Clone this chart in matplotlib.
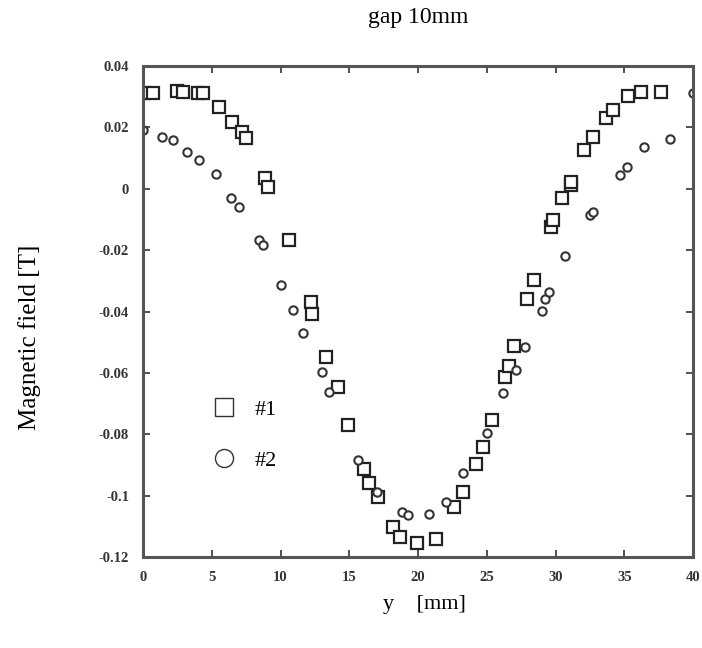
# Magnetic field along y, gap 10mm, two probes

import matplotlib.pyplot as plt
from matplotlib.lines import Line2D

# Data (#1 squares, #2 circles)
y1_mm = [0.1, 0.7, 2.5, 2.9, 4.0, 4.4, 5.5, 6.5, 7.2, 7.5, 8.9, 9.1, 10.6,
         12.2, 12.3, 13.3, 14.2, 14.9, 16.1, 16.4, 17.1, 18.2, 18.7, 19.9,
         21.3, 22.6, 23.3, 24.2, 24.7, 25.4, 26.3, 26.6, 27.0, 27.9, 28.4,
         29.7, 29.8, 30.5, 31.1, 31.1, 32.1, 32.7, 33.7, 34.2, 35.3, 36.2, 37.7]
b1 = [0.0312, 0.0312, 0.0319, 0.0315, 0.0312, 0.0312, 0.0266, 0.0218, 0.0185,
      0.0165, 0.0035, 0.0006, -0.0167, -0.0369, -0.0408, -0.0548, -0.0646,
      -0.0770, -0.0913, -0.0959, -0.1004, -0.1102, -0.1135, -0.1154, -0.1141,
      -0.1037, -0.0988, -0.0897, -0.0841, -0.0753, -0.0613, -0.0578, -0.0512,
      -0.0359, -0.0297, -0.0125, -0.0102, -0.0030, 0.0012, 0.0022, 0.0126,
      0.0169, 0.0231, 0.0257, 0.0302, 0.0315, 0.0315]

y2_mm = [0.0, 1.4, 2.2, 3.2, 4.1, 5.3, 6.4, 7.0, 8.4, 8.7, 10.0, 10.9, 11.6,
         13.0, 13.5, 15.6, 17.0, 18.8, 19.3, 20.8, 22.0, 23.3, 25.0, 26.2,
         27.1, 27.8, 29.0, 29.2, 29.5, 30.7, 32.5, 32.7, 34.7, 35.2, 36.4,
         38.3, 40.0]
b2 = [0.0191, 0.0169, 0.0159, 0.0120, 0.0094, 0.0048, -0.0030, -0.0059,
      -0.0167, -0.0183, -0.0314, -0.0395, -0.0470, -0.0597, -0.0662, -0.0884,
      -0.0988, -0.1053, -0.1063, -0.1060, -0.1021, -0.0926, -0.0796, -0.0666,
      -0.0591, -0.0516, -0.0398, -0.0359, -0.0336, -0.0219, -0.0085, -0.0076,
      0.0045, 0.0071, 0.0136, 0.0162, 0.0312]

xticks = [0, 5, 10, 15, 20, 25, 30, 35, 40]
yticks = [0.04, 0.02, 0, -0.02, -0.04, -0.06, -0.08, -0.1, -0.12]
ytick_labels = ["0.04", "0.02", "0", "-0.02", "-0.04", "-0.06", "-0.08", "-0.1", "-0.12"]

serif = ["Liberation Serif", "DejaVu Serif"]

fig = plt.figure(figsize=(7.02, 6.48), dpi=100)
ax = fig.add_axes([0.2037, 0.1404, 0.7835, 0.7577])

ax.plot(y1_mm, b1, linestyle="none", marker="s", markersize=8,
        markerfacecolor="white", markeredgecolor="#222222", markeredgewidth=1.6)
ax.plot(y2_mm, b2, linestyle="none", marker="o", markersize=6,
        markerfacecolor="white", markeredgecolor="#333333", markeredgewidth=1.5)

ax.set_xlim(0, 40)
ax.set_ylim(-0.12, 0.04)
ax.set_xticks(xticks)
ax.set_yticks(yticks)
ax.set_yticklabels(ytick_labels)
ax.tick_params(direction="in", length=5, width=1.2, top=True, right=True,
               labelsize=10.5, colors="#333333", pad=10)
for lab in ax.get_xticklabels() + ax.get_yticklabels():
    lab.set_family(serif)
    lab.set_fontweight("bold")
for sp in ax.spines.values():
    sp.set_linewidth(2.2)
    sp.set_color("#555555")

handles = [
    Line2D([], [], linestyle="none", marker="s", markersize=13,
           markerfacecolor="white", markeredgecolor="#333333", markeredgewidth=1.0),
    Line2D([], [], linestyle="none", marker="o", markersize=13,
           markerfacecolor="white", markeredgecolor="#333333", markeredgewidth=1.0),
]
ax.legend(handles, ["#1", "#2"], loc="center left", bbox_to_anchor=(0.091, 0.248),
          frameon=False, handlelength=1.0, handletextpad=0.86, labelspacing=1.35,
          prop={"family": serif, "size": 16})

fig.text(418 / 702, 1 - 17 / 648, "gap 10mm", ha="center", va="center",
         fontsize=17, family=serif)
fig.text(30 / 702, 1 - 337 / 648, "Magnetic field [T]", ha="center", va="center",
         rotation=90, fontsize=18, family=serif)
fig.text(424 / 702, 1 - 605 / 648, "y    [mm]", ha="center", va="center",
         fontsize=16, family=serif)

fig.savefig("out.png", dpi=100)
